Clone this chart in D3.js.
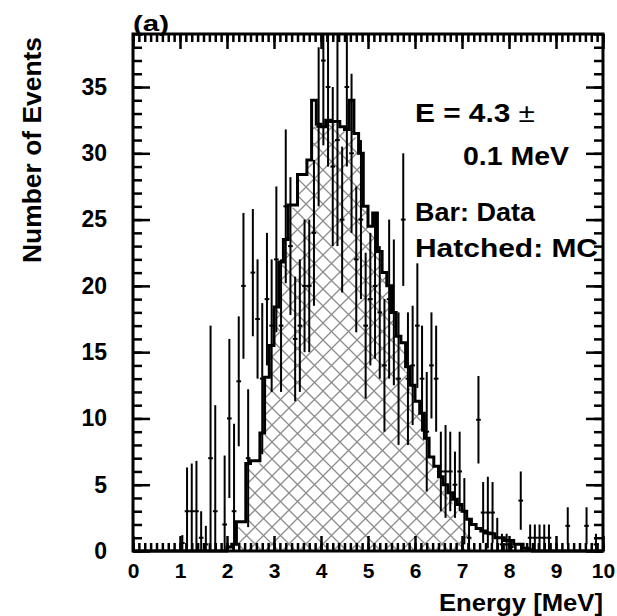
<html>
<head>
<style>
  body { margin: 0; background: #fff; }
  text { font-family: "Liberation Sans", Arial, sans-serif; font-weight: bold; fill: #000; }
</style>
</head>
<body>
<script src="https://cdn.jsdelivr.net/npm/d3@7"></script>
<script>
var width = 617, height = 616;

// bin width 0.1 MeV
var binW = 0.1;

// data points (Bar: Data), bins starting at 1.0 MeV
var dataStart = 1.0;
var dataVal = [
  0.6, 3, 3, 3, 1, 0.5, 7, 3, 0, 2,
  10, 3, 12.8, 20, 7, 21, 17.5, 13, 19, 17,
  22, 17, 26, 23, 16, 17, 20, 20, 24, 32,
  37, 35, 29, 31, 25, 35, 30, 22, 25, 17,
  19, 20, 18, 14, 19, 18, 13, 25, 13, 14,
  17, 13, 9, 14, 13, 6, 6, 6, 5, 6,
  3, 1, 0, 9.9, 2.9, 2.9, 2.9, 1, 0.5, 0.5,
  0.3, 0, 3.8, 0, 1, 1, 1, 1, 1, 0,
  0, 0, 1.9, 0, 0, 0, 1.9, 0, 0.5, 0
];
var dataErr = [
  0.6, 3.3, 3.6, 3.8, 2, 1.4, 10, 8, 0, 5.2,
  6, 6.6, 4.9, 5.5, 5.2, 4.8, 4.5, 5.7, 5, 5,
  5.5, 5, 5.8, 5.2, 4.7, 5, 5, 5, 5.5, 6,
  6.4, 6, 6, 8, 5.5, 6, 6, 5.5, 6, 5.5,
  5, 5.5, 5, 5, 6, 5.5, 5, 5, 5, 4.5,
  4.7, 4, 4.5, 4, 4, 3, 3.5, 3, 2.5, 3,
  2.5, 1.5, 0, 3.3, 2.3, 2.7, 2.3, 1.5, 0.8, 0.8,
  0.5, 0, 2.2, 0, 1, 1, 1, 1, 1, 0,
  0, 0, 1.4, 0, 0, 0, 1.4, 0, 0.8, 0
];

// total MC (thick line), bins starting at 2.0 MeV
var mcStart = 2.0;
var mcTotal = [
  0.3, 0.5, 2.2, 2.2, 6.6, 6.8, 6.8, 8.9, 13.1, 15.5,
  18.4, 21.8, 23.5, 26.1, 26.1, 28.4, 28.4, 29.5, 34.0, 32.2,
  32.0, 32.5, 32.4, 32.4, 32.0, 31.8, 34.0, 31.5, 30.0, 26.0,
  24.5, 25.5, 22.6, 21.0, 20.0, 18.0, 16.2, 15.7, 13.9, 12.5,
  11.3, 10.4, 8.5, 7.1, 6.4, 5.6, 5.0, 4.4, 3.9, 3.5,
  3.0, 2.4, 2.0, 1.7, 1.5, 1.35, 1.3, 1.0, 1.0, 0.8,
  0.8, 0.5, 0.5, 0.2, 0.1
];

// hatched MC, bins starting at 2.2 MeV
var hatchStart = 2.2;
var mcHatched = [
  1.8, 2.0, 6.2, 6.5, 6.6, 8.7, 12.9, 15.3,
  18.2, 21.6, 23.3, 25.9, 25.9, 28.2, 28.2, 29.3, 32.0, 31.8,
  31.8, 32.2, 32.2, 32.2, 31.8, 31.6, 32.0, 31.2, 29.7, 25.8,
  24.2, 25.2, 22.3, 20.7, 19.6, 17.6, 15.8, 15.3, 13.5, 12.1,
  10.9, 10.0, 8.1, 6.7, 6.0, 5.1, 4.5, 3.8, 3.2, 2.7,
  2.1, 1.2
];

var xTicks = [0, 1, 2, 3, 4, 5, 6, 7, 8, 9, 10];
var yTicks = [0, 5, 10, 15, 20, 25, 30, 35];

var x = d3.scaleLinear().domain([0, 10]).range([133, 603]);
var y = d3.scaleLinear().domain([0, 39]).range([551, 34]);

var svg = d3.select("body").append("svg")
    .attr("width", width)
    .attr("height", height);

// crosshatch
var pat = svg.append("defs").append("pattern")
    .attr("id", "hatch")
    .attr("patternUnits", "userSpaceOnUse")
    .attr("width", 17).attr("height", 17);
pat.append("path")
    .attr("d", "M-3,3 L3,-3 M0,17 L17,0 M14,20 L20,14 M-3,14 L3,20 M0,0 L17,17 M14,-3 L20,3")
    .attr("stroke", "#8c8c8c")
    .attr("stroke-width", 1.3);

function histPath(start, vals) {
  var pts = [[x(0), y(0)], [x(start), y(0)]];
  vals.forEach(function(v, i) {
    var lo = start + i * binW;
    pts.push([x(lo), y(v)]);
    pts.push([x(lo + binW), y(v)]);
  });
  pts.push([x(start + vals.length * binW), y(0)]);
  pts.push([x(10), y(0)]);
  return d3.line()(pts);
}

var plot = svg.append("g");

plot.append("path")
    .attr("d", histPath(hatchStart, mcHatched))
    .attr("fill", "url(#hatch)")
    .attr("stroke", "none");

plot.append("path")
    .attr("d", histPath(mcStart, mcTotal))
    .attr("fill", "none")
    .attr("stroke", "#000")
    .attr("stroke-width", 3);

var pts = dataVal.map(function(v, i) {
  return { lo: dataStart + i * binW, v: v, e: dataErr[i] };
}).filter(function(d) { return d.v > 0 || d.e > 0; });

var bars = plot.selectAll(".bar").data(pts).enter().append("g").attr("class", "bar");
bars.append("line")
    .attr("x1", function(d) { return x(d.lo + binW / 2); })
    .attr("x2", function(d) { return x(d.lo + binW / 2); })
    .attr("y1", function(d) { return y(Math.max(0, d.v - d.e)); })
    .attr("y2", function(d) { return y(Math.min(39, d.v + d.e)); })
    .attr("stroke", "#000").attr("stroke-width", 2);
bars.append("line")
    .attr("x1", function(d) { return x(d.lo); })
    .attr("x2", function(d) { return x(d.lo + binW); })
    .attr("y1", function(d) { return y(d.v); })
    .attr("y2", function(d) { return y(d.v); })
    .attr("stroke", "#000").attr("stroke-width", 2);

// axes: ticks point inward on all four sides
var xMinor = d3.range(0, 10.001, 0.125);
var yMinor = d3.range(0, 39.5, 1);

function styleTicks(g) {
  g.select(".domain").remove();
  g.selectAll(".tick line").attr("stroke", "#000").attr("stroke-width", 2.5);
}

svg.append("g").attr("transform", "translate(0,551)")
    .call(d3.axisBottom(x).tickValues(xMinor).tickSize(-8).tickFormat(""))
    .call(styleTicks);
svg.append("g").attr("transform", "translate(0,34)")
    .call(d3.axisTop(x).tickValues(xMinor).tickSize(-8).tickFormat(""))
    .call(styleTicks);
svg.append("g").attr("transform", "translate(0,34)")
    .call(d3.axisTop(x).tickValues(xTicks).tickSize(-15).tickFormat(""))
    .call(styleTicks);
svg.append("g").attr("transform", "translate(0,551)")
    .call(d3.axisBottom(x).tickValues(xTicks).tickSize(-15).tickPadding(12)
      .tickFormat(d3.format("d")))
    .call(styleTicks)
    .call(function(g) {
      g.selectAll("text").attr("font-size", 21).attr("fill", "#000")
        .attr("font-family", "Liberation Sans, Arial, sans-serif");
    });

svg.append("g").attr("transform", "translate(133,0)")
    .call(d3.axisLeft(y).tickValues(yMinor).tickSize(-9).tickFormat(""))
    .call(styleTicks);
svg.append("g").attr("transform", "translate(603,0)")
    .call(d3.axisRight(y).tickValues(yMinor).tickSize(-9).tickFormat(""))
    .call(styleTicks);
svg.append("g").attr("transform", "translate(603,0)")
    .call(d3.axisRight(y).tickValues(yTicks).tickSize(-17).tickFormat(""))
    .call(styleTicks);
svg.append("g").attr("transform", "translate(133,0)")
    .call(d3.axisLeft(y).tickValues(yTicks).tickSize(-17).tickPadding(26)
      .tickFormat(d3.format("d")))
    .call(styleTicks)
    .call(function(g) {
      g.selectAll("text").attr("font-size", 23).attr("fill", "#000")
        .attr("font-family", "Liberation Sans, Arial, sans-serif");
    });

// frame
svg.append("rect")
    .attr("x", 133).attr("y", 34)
    .attr("width", 470).attr("height", 517)
    .attr("fill", "none").attr("stroke", "#000").attr("stroke-width", 3);

// texts
svg.append("text").attr("x", 133).attr("y", 31).attr("font-size", 22)
    .attr("textLength", 36).attr("lengthAdjust", "spacingAndGlyphs").text("(a)");

svg.append("text")
    .attr("transform", "translate(41,150) rotate(-90)")
    .attr("text-anchor", "middle").attr("font-size", 25)
    .attr("textLength", 226).attr("lengthAdjust", "spacingAndGlyphs")
    .text("Number of Events");

svg.append("text").attr("x", 603).attr("y", 611).attr("text-anchor", "end")
    .attr("font-size", 23).attr("textLength", 164).attr("lengthAdjust", "spacingAndGlyphs")
    .text("Energy [MeV]");

var t1 = svg.append("text").attr("x", 415).attr("y", 122).attr("font-size", 25)
    .attr("textLength", 120).attr("lengthAdjust", "spacingAndGlyphs");
t1.append("tspan").text("E = 4.3 ");
t1.append("tspan").attr("font-weight", "normal").text("\u00b1");

svg.append("text").attr("x", 463).attr("y", 165).attr("font-size", 25)
    .attr("textLength", 106).attr("lengthAdjust", "spacingAndGlyphs").text("0.1 MeV");
svg.append("text").attr("x", 415).attr("y", 221).attr("font-size", 25)
    .attr("textLength", 120).attr("lengthAdjust", "spacingAndGlyphs").text("Bar: Data");
svg.append("text").attr("x", 415).attr("y", 257).attr("font-size", 25)
    .attr("textLength", 183).attr("lengthAdjust", "spacingAndGlyphs").text("Hatched: MC");
</script>
</body>
</html>
